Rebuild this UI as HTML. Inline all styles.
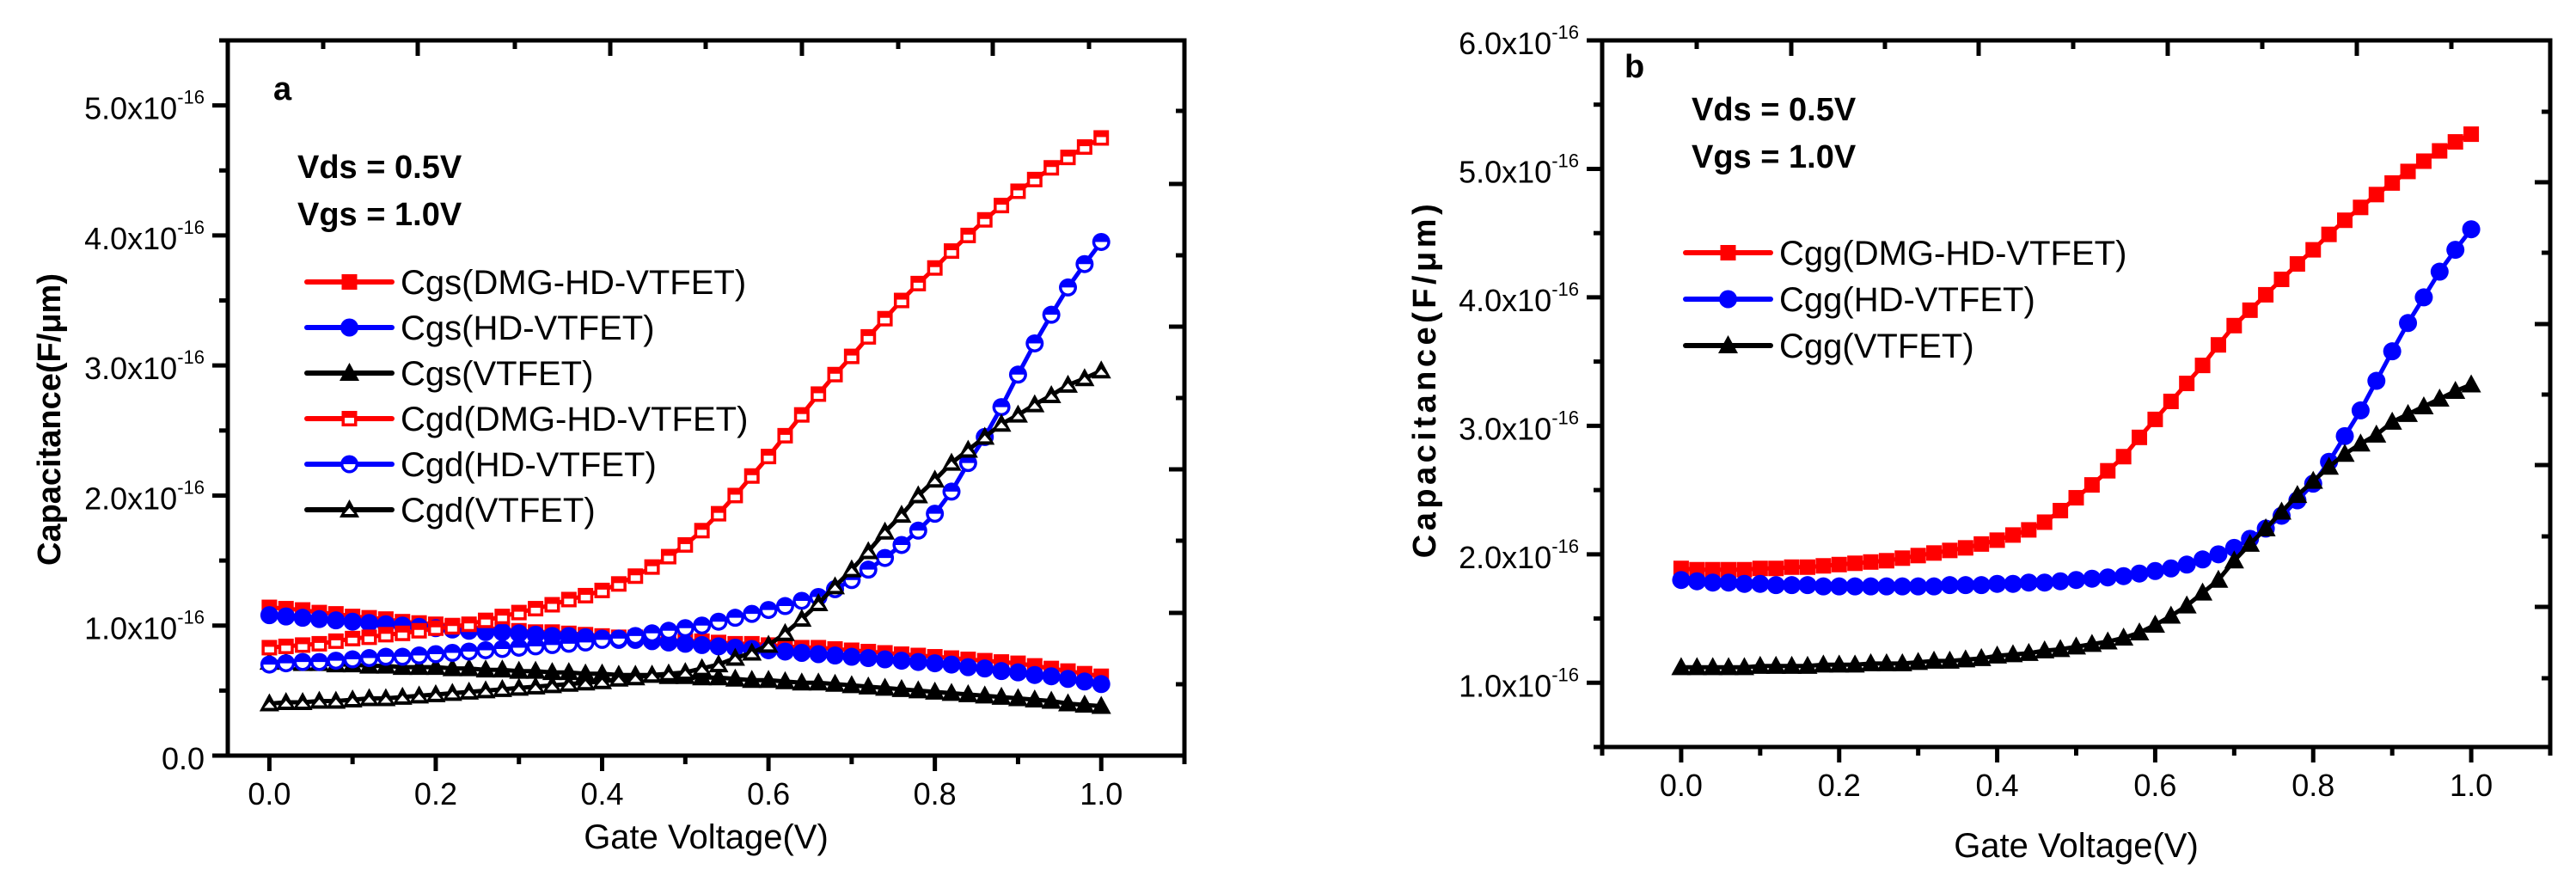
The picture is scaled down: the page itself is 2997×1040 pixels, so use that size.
<!DOCTYPE html>
<html><head><meta charset="utf-8"><title>Capacitance vs Gate Voltage</title>
<style>
html,body{margin:0;padding:0;background:#fff;}
svg{display:block;font-family:"Liberation Sans",Arial,sans-serif;}
</style></head>
<body>
<svg id="fig" width="2997" height="1040" viewBox="0 0 2997 1040" xmlns="http://www.w3.org/2000/svg"></svg>
<script>
// ---------- data ----------
const xValues = [0,0.02,0.04,0.06,0.08,0.10,0.12,0.14,0.16,0.18,0.20,0.22,0.24,0.26,0.28,0.30,0.32,0.34,0.36,0.38,0.40,0.42,0.44,0.46,0.48,0.50,0.52,0.54,0.56,0.58,0.60,0.62,0.64,0.66,0.68,0.70,0.72,0.74,0.76,0.78,0.80,0.82,0.84,0.86,0.88,0.90,0.92,0.94,0.96,0.98,1.00];
// panel a (units of 1e-16 F/um)
const cgsDMG = [1.14,1.13,1.12,1.10,1.09,1.07,1.06,1.05,1.03,1.02,1.01,1.00,0.99,0.98,0.97,0.96,0.95,0.95,0.94,0.93,0.92,0.91,0.91,0.90,0.89,0.88,0.88,0.87,0.86,0.86,0.85,0.84,0.83,0.83,0.82,0.81,0.80,0.79,0.78,0.77,0.76,0.75,0.74,0.73,0.72,0.71,0.69,0.67,0.65,0.63,0.61];
const cgsHD = [1.08,1.07,1.06,1.05,1.04,1.03,1.02,1.01,1.00,0.99,0.98,0.97,0.96,0.95,0.95,0.94,0.93,0.92,0.92,0.91,0.90,0.89,0.89,0.88,0.87,0.86,0.85,0.84,0.83,0.82,0.81,0.80,0.79,0.78,0.77,0.76,0.75,0.74,0.73,0.72,0.71,0.70,0.68,0.67,0.65,0.64,0.62,0.61,0.59,0.57,0.55];
const cgsVT = [0.72,0.72,0.71,0.71,0.70,0.70,0.69,0.69,0.68,0.68,0.68,0.67,0.67,0.66,0.66,0.65,0.65,0.64,0.64,0.63,0.63,0.62,0.62,0.62,0.61,0.61,0.60,0.60,0.59,0.58,0.58,0.57,0.56,0.56,0.55,0.54,0.53,0.52,0.51,0.50,0.49,0.48,0.47,0.46,0.45,0.44,0.43,0.42,0.40,0.39,0.38];
const cgdDMG = [0.83,0.84,0.85,0.86,0.88,0.90,0.91,0.93,0.94,0.96,0.98,0.99,1.01,1.04,1.07,1.10,1.13,1.16,1.20,1.23,1.27,1.32,1.38,1.45,1.53,1.62,1.73,1.86,2.00,2.15,2.30,2.46,2.62,2.78,2.93,3.07,3.22,3.36,3.50,3.63,3.75,3.88,4.00,4.12,4.23,4.34,4.43,4.52,4.60,4.68,4.75];
const cgdHD = [0.70,0.71,0.72,0.72,0.73,0.74,0.75,0.76,0.76,0.77,0.78,0.79,0.80,0.81,0.82,0.83,0.84,0.85,0.86,0.87,0.89,0.90,0.92,0.94,0.96,0.98,1.00,1.03,1.06,1.09,1.12,1.15,1.19,1.22,1.28,1.35,1.43,1.52,1.62,1.73,1.86,2.03,2.25,2.45,2.68,2.93,3.17,3.39,3.60,3.78,3.95];
const cgdVT = [0.40,0.41,0.41,0.42,0.42,0.43,0.44,0.44,0.45,0.46,0.47,0.48,0.49,0.50,0.51,0.52,0.53,0.54,0.55,0.56,0.57,0.59,0.60,0.62,0.63,0.64,0.67,0.70,0.75,0.79,0.85,0.94,1.05,1.17,1.30,1.43,1.57,1.72,1.85,2.00,2.12,2.25,2.35,2.45,2.55,2.62,2.70,2.77,2.85,2.90,2.96];
// panel b
const cggDMG = [1.89,1.88,1.88,1.88,1.88,1.89,1.89,1.90,1.90,1.91,1.92,1.93,1.94,1.95,1.97,1.99,2.01,2.03,2.05,2.08,2.11,2.15,2.19,2.25,2.34,2.44,2.54,2.65,2.76,2.91,3.05,3.19,3.33,3.47,3.63,3.78,3.90,4.02,4.14,4.26,4.37,4.49,4.60,4.70,4.80,4.89,4.98,5.06,5.14,5.21,5.27];
const cggHD = [1.80,1.79,1.78,1.78,1.77,1.77,1.76,1.76,1.76,1.75,1.75,1.75,1.75,1.75,1.75,1.75,1.75,1.76,1.76,1.76,1.77,1.77,1.78,1.78,1.79,1.80,1.81,1.82,1.83,1.85,1.87,1.89,1.92,1.96,2.00,2.05,2.12,2.20,2.30,2.42,2.55,2.72,2.92,3.12,3.35,3.58,3.80,4.00,4.20,4.37,4.53];
const cggVT = [1.12,1.12,1.12,1.12,1.12,1.13,1.13,1.13,1.13,1.14,1.14,1.14,1.15,1.15,1.15,1.16,1.17,1.17,1.18,1.19,1.21,1.22,1.23,1.25,1.26,1.28,1.30,1.32,1.35,1.39,1.45,1.52,1.60,1.70,1.80,1.95,2.08,2.20,2.33,2.46,2.57,2.68,2.78,2.86,2.93,3.03,3.09,3.15,3.21,3.27,3.32];
const xTicks = [0.0,0.2,0.4,0.6,0.8,1.0];
const xTickLabels = ["0.0","0.2","0.4","0.6","0.8","1.0"];
const yTicksA = [0,1,2,3,4,5];
const yTickLabelsA = ["0.0","1.0x10","2.0x10","3.0x10","4.0x10","5.0x10"];
const yTicksB = [1,2,3,4,5,6];
const yTickLabelsB = ["1.0x10","2.0x10","3.0x10","4.0x10","5.0x10","6.0x10"];
const legendA = ["Cgs(DMG-HD-VTFET)","Cgs(HD-VTFET)","Cgs(VTFET)","Cgd(DMG-HD-VTFET)","Cgd(HD-VTFET)","Cgd(VTFET)"];
const legendB = ["Cgg(DMG-HD-VTFET)","Cgg(HD-VTFET)","Cgg(VTFET)"];

// ---------- helpers ----------
const NS = "http://www.w3.org/2000/svg";
const svg = document.getElementById('fig');
function mk(tag, attrs, parent){
  const e = document.createElementNS(NS, tag);
  for (const k in attrs) e.setAttribute(k, attrs[k]);
  (parent||svg).appendChild(e);
  return e;
}
const RED="#ff0000", BLUE="#0000ff", BLACK="#000000";

function marker(g, shape, cx, cy, color, open){
  let e;
  if (shape==='square'){
    e = mk('rect',{x:cx-9,y:cy-9,width:18,height:18,fill:color},g);
    if (open) mk('rect',{x:cx-5.5,y:cy-1,width:11,height:6.5,fill:'#fff'},g);
  } else if (shape==='circle'){
    e = mk('circle',{cx:cx,cy:cy,r:10.5,fill:color},g);
    if (open) mk('path',{d:`M${cx-7} ${cy} A7 7 0 0 0 ${cx+7} ${cy} Z`,fill:'#fff'},g);
  } else {
    e = mk('path',{d:`M${cx} ${cy-12} L${cx+11.5} ${cy+9} L${cx-11.5} ${cy+9} Z`,fill:color},g);
    if (open) mk('path',{d:`M${cx} ${cy-2} L${cx+6} ${cy+5} L${cx-6} ${cy+5} Z`,fill:'#fff'},g);
  }
  return e;
}

function panel(cfg){
  const P = mk('g',{});
  
  
  const sx = v => cfg.x0 + (v - cfg.xmin)/(cfg.xmax - cfg.xmin)*(cfg.x1 - cfg.x0);
  const sy = v => cfg.y1 - (v - cfg.ymin)/(cfg.ymax - cfg.ymin)*(cfg.y1 - cfg.y0);
  cfg.series.forEach(s=>{
    const g = mk('g',{},P);
    
    
    const pts = xValues.map((x,i)=>sx(x).toFixed(1)+','+sy(s.data[i]).toFixed(1)).join(' ');
    const line = mk('polyline',{points:pts,fill:'none',stroke:s.color,'stroke-width':5,'stroke-linejoin':'round'},g);
    
    
    xValues.forEach((x,i)=>{
      const m = marker(g, s.shape, sx(x), sy(s.data[i]), s.color, s.open);
      
      
    });
  });
  const fr = mk('rect',{x:cfg.x0,y:cfg.y0,width:cfg.x1-cfg.x0,height:cfg.y1-cfg.y0,fill:'none',stroke:'#000','stroke-width':5},P);
  
  
  const kStart = Math.ceil(cfg.xmin*10 - 1e-6), kEnd = Math.floor(cfg.xmax*10 + 1e-6);
  for (let k=kStart; k<=kEnd; k++){
    const v = k/10;
    const major = (k % 2 === 0);
    mk('line',{x1:sx(v),x2:sx(v),y1:cfg.y1,y2:cfg.y1+(major?18:10),stroke:'#000','stroke-width':5},P);
  }
  xTicks.forEach((v,i)=>{
    const t = mk('text',{x:sx(v),y:cfg.y1+57,'font-size':36,'text-anchor':'middle'},P);
    t.textContent = xTickLabels[i];
    
    
  });
  const jStart = Math.ceil(cfg.ymin*2 - 1e-6), jEnd = Math.floor(cfg.ymax*2 + 1e-6);
  for (let j=jStart; j<=jEnd; j++){
    const v = j/2;
    const major = (j % 2 === 0);
    mk('line',{x1:cfg.x0-(major?18:10),x2:cfg.x0,y1:sy(v),y2:sy(v),stroke:'#000','stroke-width':5},P);
  }
  cfg.yTicks.forEach((v,i)=>{
    const t = mk('text',{x:cfg.x0-27,y:sy(v)+16,'font-size':36,'text-anchor':'end'},P);
    
    
    if (cfg.yLabels[i].indexOf('x10')>=0){
      const a = mk('tspan',{},t); a.textContent = cfg.yLabels[i];
      const b = mk('tspan',{'font-size':22,dy:-18},t); b.textContent='-16';
    } else t.textContent = cfg.yLabels[i];
  });
  cfg.topTicks.forEach((x,i)=>mk('line',{x1:x,x2:x,y1:cfg.y0,y2:cfg.y0+(i%2?18:10),stroke:'#000','stroke-width':5},P));
  cfg.rightTicks.forEach((y,i)=>mk('line',{x1:cfg.x1-(i%2?18:10),x2:cfg.x1,y1:y,y2:y,stroke:'#000','stroke-width':5},P));
  const xt = mk('text',{x:(cfg.x0+cfg.x1)/2,y:cfg.y1+cfg.xtOff,'font-size':40,'text-anchor':'middle'},P);
  xt.textContent='Gate Voltage(V)';
  
  
  const yt = mk('text',{x:0,y:0,'font-size':38,'font-weight':'bold','text-anchor':'middle','letter-spacing':cfg.ls,transform:`translate(${cfg.ytx},${cfg.yty}) rotate(-90)`},P);
  yt.textContent='Capacitance(F/\u03bcm)';
  
  
  const lab = mk('text',{x:cfg.labX,y:cfg.labY,'font-size':38,'font-weight':'bold'},P);
  lab.textContent=cfg.label;
  
  
  const v1 = mk('text',{x:cfg.annX,y:cfg.annY,'font-size':38,'font-weight':'bold'},P);
  v1.textContent='Vds = 0.5V';
  
  
  const v2 = mk('text',{x:cfg.annX,y:cfg.annY+55,'font-size':38,'font-weight':'bold'},P);
  v2.textContent='Vgs = 1.0V';
  
  
  const L = mk('g',{},P);
  
  
  cfg.series.forEach((s,i)=>{
    const y = cfg.legY + i*cfg.legDy;
    const e = mk('g',{},L);
    
    
    mk('line',{x1:cfg.legX0,x2:cfg.legX1,y1:y,y2:y,stroke:s.color,'stroke-width':6,'stroke-linecap':'round'},e);
    marker(e, s.shape, (cfg.legX0+cfg.legX1)/2, y, s.color, s.open);
    const t = mk('text',{x:cfg.legX1+10,y:y+14,'font-size':40},e);
    t.textContent = cfg.legend[i];
  });
}

panel({name:'panel-a', x0:265,x1:1378,y0:47,y1:879, xmin:-0.05,xmax:1.1, ymin:0,ymax:5.5,
  yTicks:yTicksA, yLabels:yTickLabelsA,
  topTicks:[376,486,599,710,821,933,1045,1155,1267],
  rightTicks:[129,214,297,380,463,546,629,713,796],
  ytx:70, yty:488, ls:0, xtOff:108,
  label:'a', labX:318, labY:116, annX:346, annY:207,
  legX0:357,legX1:456,legY:328,legDy:53, legend:legendA,
  series:[
    {name:'cgs-dmg-hd-vtfet',data:cgsDMG,color:RED,shape:'square',open:false},
    {name:'cgs-hd-vtfet',data:cgsHD,color:BLUE,shape:'circle',open:false},
    {name:'cgs-vtfet',data:cgsVT,color:BLACK,shape:'triangle',open:false},
    {name:'cgd-dmg-hd-vtfet',data:cgdDMG,color:RED,shape:'square',open:true},
    {name:'cgd-hd-vtfet',data:cgdHD,color:BLUE,shape:'circle',open:true},
    {name:'cgd-vtfet',data:cgdVT,color:BLACK,shape:'triangle',open:true}
  ]});

panel({name:'panel-b', x0:1864,x1:2967,y0:47,y1:869, xmin:-0.1,xmax:1.1, ymin:0.5,ymax:6.0,
  yTicks:yTicksB, yLabels:yTickLabelsB,
  topTicks:[1974,2084,2193,2302,2412,2522,2632,2742,2852],
  rightTicks:[130,212,294,377,459,541,624,706,789],
  ytx:1670, yty:441, ls:4.5, xtOff:128,
  label:'b', labX:1890, labY:90, annX:1968, annY:140,
  legX0:1961,legX1:2060,legY:294,legDy:54, legend:legendB,
  series:[
    {name:'cgg-dmg-hd-vtfet',data:cggDMG,color:RED,shape:'square',open:false},
    {name:'cgg-hd-vtfet',data:cggHD,color:BLUE,shape:'circle',open:false},
    {name:'cgg-vtfet',data:cggVT,color:BLACK,shape:'triangle',open:false}
  ]});
</script>
</body></html>
